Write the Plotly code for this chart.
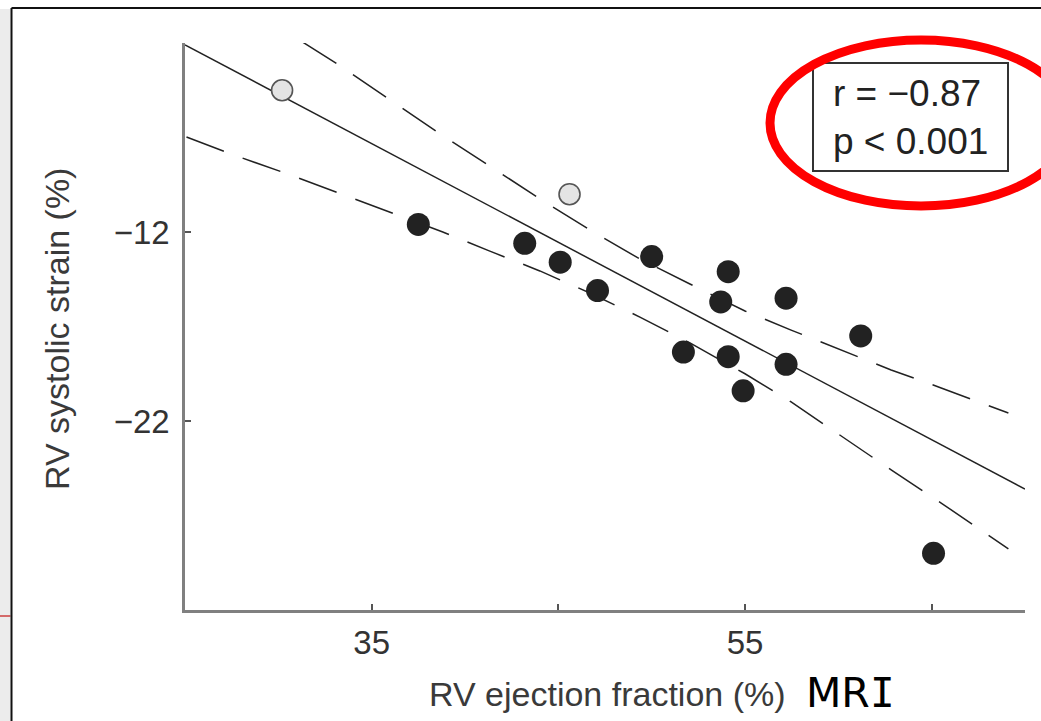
import plotly.graph_objects as go

# ---------------- data ----------------
ef_black = [37.5, 43.2, 45.1, 47.1, 50.0, 54.1, 53.7, 57.2, 61.2, 51.7, 54.1, 57.2, 54.9, 65.1]
strain_black = [-11.6, -12.6, -13.6, -15.1, -13.3, -14.1, -15.7, -15.5, -17.5, -18.35, -18.6, -19.0, -20.4, -29.0]

ef_grey = [30.2, 45.6]
strain_grey = [-4.5, -10.0]

fit_x = [25.0, 70.0]
fit_y = [-2.1, -25.6]

upper_x = [31.3, 33.23, 35.91, 38.59, 41.33, 44.01, 46.69, 49.37, 52.05, 55.0, 57.47, 60.15, 62.83, 65.51, 69.11]
upper_y = [-1.95, -3.16, -4.96, -6.76, -8.51, -10.25, -11.89, -13.43, -14.75, -16.18, -17.19, -18.24, -19.30, -20.25, -21.58]

lower_x = [25.08, 27.76, 30.50, 33.23, 35.91, 38.81, 41.33, 44.01, 46.69, 49.37, 52.05, 55.0, 57.47, 60.15, 62.83, 65.51, 69.11]
lower_y = [-6.97, -7.98, -8.93, -9.94, -10.89, -12.0, -13.01, -14.06, -15.23, -16.50, -17.87, -19.5, -20.99, -22.79, -24.59, -26.34, -28.77]

x_tickvals = [25, 35, 45, 55, 65]
x_ticktext = ["", "35", "", "55", ""]
y_tickvals = [-2, -12, -22, -32]
y_ticktext = ["", "\u221212", "\u221222", ""]

stats_text = "r = \u22120.87<br>p &lt; 0.001"
x_title = "RV ejection fraction (%)"
y_title = "RV systolic strain (%)"
extra_label = 'MR<span style="font-family:DejaVu Sans Mono, monospace">I</span>'

# ---------------- layout helpers ----------------
FW, FH = 1041, 721
L, R, T, B = 185, 16, 43, 111
PW, PH = FW - L - R, FH - T - B


def pxx(x):
    return (x - L) / PW


def pxy(y):
    return (FH - B - y) / PH


FONT = "Liberation Sans, Arial, Helvetica, sans-serif"
INK = "#222222"

fig = go.Figure()

fig.add_trace(go.Scatter(x=fit_x, y=fit_y, mode="lines",
                         line=dict(color=INK, width=1.5), showlegend=False, hoverinfo="skip"))
fig.add_trace(go.Scatter(x=upper_x, y=upper_y, mode="lines",
                         line=dict(color=INK, width=1.5, dash="40px,20px"), showlegend=False, hoverinfo="skip"))
fig.add_trace(go.Scatter(x=lower_x, y=lower_y, mode="lines",
                         line=dict(color=INK, width=1.5, dash="40px,20px"), showlegend=False, hoverinfo="skip"))
fig.add_trace(go.Scatter(x=ef_black, y=strain_black, mode="markers",
                         marker=dict(size=23, color=INK, line=dict(width=0)), showlegend=False))
fig.add_trace(go.Scatter(x=ef_grey, y=strain_grey, mode="markers",
                         marker=dict(size=21, color="#e4e4e4", line=dict(width=1.6, color="#555555")),
                         showlegend=False))

axis_common = dict(showgrid=False, zeroline=False, showline=True, linecolor="#808080", linewidth=2.5,
                   ticks="inside", ticklen=6, tickwidth=2, tickcolor="#555555",
                   tickfont=dict(family=FONT, size=33, color="#333333"))

fig.update_xaxes(range=[25, 70], tickvals=x_tickvals, ticktext=x_ticktext, ticklabelstandoff=2, **axis_common)
fig.update_yaxes(range=[-32, -2], tickvals=y_tickvals, ticktext=y_ticktext, ticklabelstandoff=6, **axis_common)

shapes = [
    # page background strip and frame
    dict(type="rect", xref="paper", yref="paper", x0=pxx(0), x1=pxx(10.5), y0=pxy(721), y1=pxy(9),
         fillcolor="#ececec", line=dict(width=0), layer="below"),
    dict(type="line", xref="paper", yref="paper", x0=pxx(0), x1=pxx(10.5), y0=pxy(616), y1=pxy(616),
         line=dict(color="#d46a6a", width=2)),
    dict(type="line", xref="paper", yref="paper", x0=pxx(11.5), x1=pxx(1041), y0=pxy(8), y1=pxy(8),
         line=dict(color="#111111", width=2)),
    dict(type="line", xref="paper", yref="paper", x0=pxx(11.5), x1=pxx(11.5), y0=pxy(8), y1=pxy(721),
         line=dict(color="#111111", width=2)),
    # stats box
    dict(type="rect", xref="paper", yref="paper", x0=pxx(813), x1=pxx(1008), y0=pxy(171), y1=pxy(63),
         line=dict(color="#333333", width=2), fillcolor="rgba(0,0,0,0)"),
    # red ellipse
    dict(type="circle", xref="paper", yref="paper", x0=pxx(770), x1=pxx(1072), y0=pxy(206), y1=pxy(40),
         line=dict(color="#ff0000", width=9)),
]

annotations = [
    dict(text=stats_text, xref="paper", yref="paper", x=pxx(831), y=pxy(117), xanchor="left", yanchor="middle",
         showarrow=False, align="left", font=dict(family=FONT, size=37, color=INK)),
    dict(text=x_title, xref="paper", yref="paper", x=pxx(607), y=pxy(694), xanchor="center", yanchor="middle",
         showarrow=False, font=dict(family=FONT, size=34, color="#3a3a3a")),
    dict(text=y_title, xref="paper", yref="paper", x=pxx(57), y=pxy(329), xanchor="center", yanchor="middle",
         textangle=-90, showarrow=False, font=dict(family=FONT, size=34, color="#3a3a3a")),
    dict(text=extra_label, xref="paper", yref="paper", x=pxx(804), y=pxy(693), xanchor="left", yanchor="middle",
         showarrow=False, font=dict(family="DejaVu Sans, Verdana, sans-serif", size=41, color="#000000")),
]

fig.update_layout(width=FW, height=FH, margin=dict(l=L, r=R, t=T, b=B, autoexpand=False),
                  paper_bgcolor="white", plot_bgcolor="white", shapes=shapes, annotations=annotations,
                  showlegend=False)

fig.write_html("out.html")
